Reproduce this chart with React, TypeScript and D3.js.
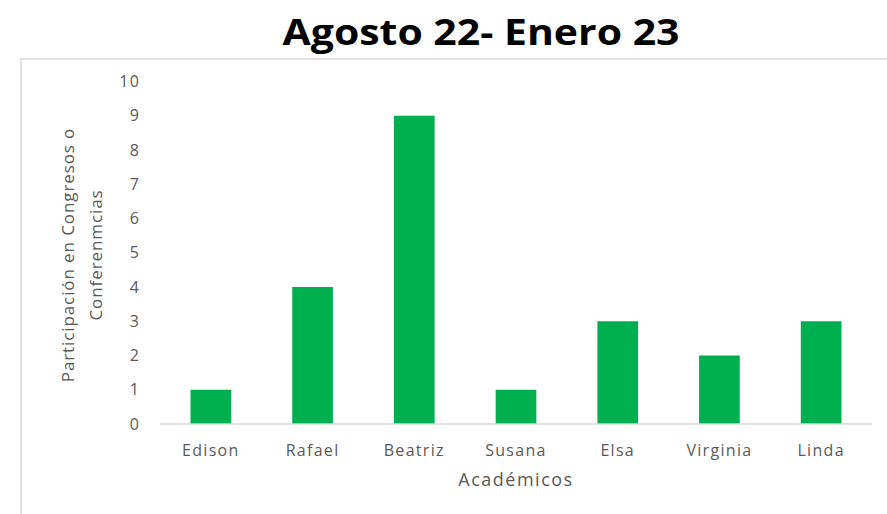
import React from "react";
import * as d3 from "d3";

const categories = ["Edison", "Rafael", "Beatriz", "Susana", "Elsa", "Virginia", "Linda"];
const values = [1, 4, 9, 1, 3, 2, 3];
const yTicks = [0, 1, 2, 3, 4, 5, 6, 7, 8, 9, 10];
const title = "Agosto 22- Enero 23";
const yTitle = ["Participación en Congresos o", "Conferenmcias"];
const xTitle = "Académicos";

export default function App() {
  const W = 887, H = 514;
  const left = 160, right = 872, top = 81.5, bottom = 424;
  const x = d3.scaleBand<string>().domain(categories).range([left, right]).paddingInner(0.6).paddingOuter(0.3);
  const y = d3.scaleLinear().domain([0, 10]).range([bottom, top]);
  const font = "'Open Sans', 'Liberation Sans', sans-serif";
  return (
    <svg width={W} height={H} style={{ position: "absolute", left: 0, top: 0, background: "#fff" }}>
      <rect x={21} y={59} width={W} height={H} fill="#fff" stroke="#d9d9d9" strokeWidth={1.5} />
      <text x={481} y={45} textAnchor="middle" fontFamily={font} fontWeight={700} fontSize={35}
        textLength={397} lengthAdjust="spacingAndGlyphs" fill="#000">{title}</text>
      {yTicks.map(t => (
        <text key={t} x={140} y={y(t)} dy="0.35em" textAnchor="end" fontFamily={font} fontSize={16} letterSpacing={1.2} fill="#595959">{t}</text>
      ))}
      {categories.map((c, i) => (
        <rect key={c} x={x(c)} y={y(values[i])} width={x.bandwidth()} height={y(0) - y(values[i])} fill="#00B050" />
      ))}
      <line x1={left} x2={right} y1={y(0)} y2={y(0)} stroke="#d9d9d9" strokeWidth={1.5} />
      {categories.map(c => (
        <text key={c} x={(x(c) as number) + x.bandwidth() / 2} y={456} textAnchor="middle" fontFamily={font} fontSize={16} letterSpacing={1.3} fill="#595959">{c}</text>
      ))}
      <text x={516} y={486} textAnchor="middle" fontFamily={font} fontSize={18} letterSpacing={1.5} fill="#595959">{xTitle}</text>
      <g transform="translate(0,255) rotate(-90)">
        <text x={0} y={74} textAnchor="middle" fontFamily={font} fontSize={17} letterSpacing={0.9} fill="#595959">{yTitle[0]}</text>
        <text x={0} y={102} textAnchor="middle" fontFamily={font} fontSize={17} letterSpacing={0.9} fill="#595959">{yTitle[1]}</text>
      </g>
    </svg>
  );
}
